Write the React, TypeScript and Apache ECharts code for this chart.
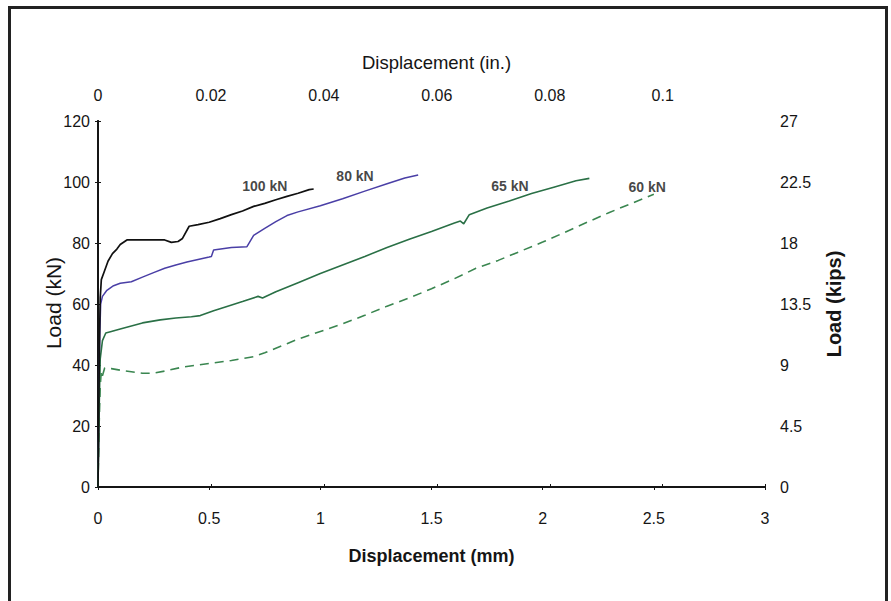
import React, { useEffect, useRef } from "react";
import * as echarts from "echarts";

// Load–displacement curves for four pretension levels (displacement in mm, load in kN)
const curve100kN: [number, number][] = [
  [0, 0], [0.003, 20], [0.006, 45], [0.01, 62], [0.015, 68], [0.03, 71], [0.045, 74],
  [0.065, 76.5], [0.085, 78], [0.1, 79.5], [0.13, 81], [0.2, 81], [0.3, 81], [0.33, 80.2],
  [0.36, 80.5], [0.38, 81.5], [0.41, 85.5], [0.45, 86], [0.5, 86.8], [0.55, 88], [0.6, 89.3],
  [0.65, 90.5], [0.7, 92], [0.75, 93], [0.8, 94.2], [0.85, 95.3], [0.9, 96.3], [0.95, 97.5],
  [0.97, 97.7],
];

const curve80kN: [number, number][] = [
  [0, 0], [0.004, 25], [0.008, 50], [0.012, 60], [0.02, 62.5], [0.04, 64.5], [0.07, 66],
  [0.1, 66.8], [0.15, 67.3], [0.2, 68.8], [0.25, 70.3], [0.3, 71.7], [0.35, 72.8], [0.4, 73.8],
  [0.45, 74.6], [0.5, 75.4], [0.51, 75.6], [0.52, 77.7], [0.6, 78.5], [0.67, 78.8], [0.7, 82.5],
  [0.75, 84.8], [0.8, 87], [0.85, 89], [0.9, 90.2], [1.0, 92.2], [1.1, 94.5], [1.2, 97],
  [1.3, 99.4], [1.38, 101.3], [1.44, 102.3],
];

const curve65kN: [number, number][] = [
  [0, 0], [0.005, 25], [0.01, 42], [0.02, 48], [0.035, 50.5], [0.06, 51], [0.1, 51.8],
  [0.15, 52.8], [0.2, 53.8], [0.28, 54.8], [0.35, 55.4], [0.42, 55.8], [0.46, 56.2],
  [0.52, 57.8], [0.58, 59.2], [0.65, 60.8], [0.72, 62.5], [0.74, 62], [0.8, 64], [0.9, 67],
  [1.0, 70], [1.1, 72.8], [1.2, 75.6], [1.3, 78.5], [1.4, 81.2], [1.5, 83.8], [1.6, 86.5],
  [1.63, 87.2], [1.645, 86.3], [1.67, 89.3], [1.75, 91.5], [1.85, 93.8], [1.95, 96.2],
  [2.05, 98.3], [2.15, 100.4], [2.21, 101.2],
];

const curve60kN: [number, number][] = [
  [0, 0], [0.005, 20], [0.01, 33], [0.015, 38], [0.02, 36.5], [0.03, 39], [0.06, 38.8],
  [0.1, 38.3], [0.15, 37.8], [0.2, 37.3], [0.25, 37.3], [0.3, 38], [0.38, 39.3], [0.45, 40],
  [0.5, 40.5], [0.6, 41.5], [0.7, 42.7], [0.75, 44], [0.8, 45.5], [0.85, 47], [0.9, 48.5],
  [1.0, 51], [1.1, 53.5], [1.2, 56.3], [1.3, 59.3], [1.4, 62], [1.5, 65], [1.6, 68.2],
  [1.7, 71.7], [1.8, 74.3], [1.9, 77.3], [2.0, 80.3], [2.1, 83.5], [2.2, 86.8], [2.3, 90],
  [2.4, 93], [2.5, 96],
];

// Curve captions, anchored in data coordinates (mm, kN)
const curveLabels: { name: string; value: [number, number] }[] = [
  { name: "100 kN", value: [0.75, 98.7] },
  { name: "80 kN", value: [1.156, 102] },
  { name: "65 kN", value: [1.853, 98.7] },
  { name: "60 kN", value: [2.47, 98.4] },
];

// Axis ranges and steps
const mmRange = [0, 3];
const mmStep = 0.5;
const inchStep = 0.02;
const kNRange = [0, 120];
const kNStep = 20;
const kipsRange = [0, 27];
const kipsStep = 4.5;

const FONT = "Liberation Sans";
const INK = "#151515";

export default function App() {
  const ref = useRef<HTMLDivElement>(null);

  useEffect(() => {
    if (!ref.current) return;
    const chart = echarts.init(ref.current, undefined, { renderer: "svg" });

    const axisLine = { show: true, lineStyle: { color: INK, width: 2 } };
    const axisTick = { show: true, length: 3, lineStyle: { color: INK, width: 1 } };
    const labelStyle = { color: INK, fontFamily: FONT, fontSize: 16 };

    chart.setOption({
      animation: false,
      backgroundColor: "#ffffff",
      grid: { left: 98, right: 126, top: 121, bottom: 114, containLabel: false },
      xAxis: [
        {
          type: "value",
          position: "bottom",
          min: mmRange[0],
          max: mmRange[1],
          interval: mmStep,
          name: "Displacement (mm)",
          nameLocation: "middle",
          nameGap: 60,
          nameTextStyle: { color: INK, fontFamily: FONT, fontSize: 18, fontWeight: "bold" },
          axisLine,
          axisTick,
          splitLine: { show: false },
          axisLabel: { ...labelStyle, margin: 23, formatter: (v: number) => String(+v.toFixed(2)) },
        },
        {
          type: "value",
          position: "top",
          min: mmRange[0] / 25.4,
          max: mmRange[1] / 25.4,
          interval: inchStep,
          name: "Displacement (in.)",
          nameLocation: "middle",
          nameGap: 49,
          nameTextStyle: { color: INK, fontFamily: FONT, fontSize: 18.5, padding: [0, 0, 0, 10] },
          axisLine,
          axisTick,
          splitLine: { show: false },
          axisLabel: {
            ...labelStyle,
            margin: 18,
            formatter: (v: number) => {
              const k = v / inchStep;
              if (Math.abs(k - Math.round(k)) > 1e-6) return "";
              return String(+v.toFixed(2));
            },
          },
        },
      ],
      yAxis: [
        {
          type: "value",
          position: "left",
          min: kNRange[0],
          max: kNRange[1],
          interval: kNStep,
          axisLine,
          axisTick,
          splitLine: { show: false },
          axisLabel: { ...labelStyle, margin: 8 },
        },
        {
          type: "value",
          position: "right",
          min: kipsRange[0],
          max: kipsRange[1],
          interval: kipsStep,
          name: "Load (kips)",
          nameLocation: "middle",
          nameRotate: 90,
          nameGap: 59,
          nameTextStyle: { color: INK, fontFamily: FONT, fontSize: 20, fontWeight: "bold" },
          axisLine,
          axisTick,
          splitLine: { show: false },
          axisLabel: { ...labelStyle, margin: 15 },
        },
      ],
      series: [
        {
          name: "100 kN",
          type: "line",
          data: curve100kN,
          showSymbol: false,
          lineStyle: { color: "#111111", width: 1.7 },
          z: 4,
        },
        {
          name: "80 kN",
          type: "line",
          data: curve80kN,
          showSymbol: false,
          lineStyle: { color: "#4a3fa6", width: 1.5 },
          z: 3,
        },
        {
          name: "65 kN",
          type: "line",
          data: curve65kN,
          showSymbol: false,
          lineStyle: { color: "#2a7046", width: 1.6 },
          z: 3,
        },
        {
          name: "60 kN",
          type: "line",
          data: curve60kN,
          showSymbol: false,
          lineStyle: { color: "#3a8650", width: 1.6, type: [9, 6] },
          z: 3,
        },
        {
          name: "captions",
          type: "scatter",
          data: curveLabels,
          symbolSize: 0,
          silent: true,
          z: 5,
          label: {
            show: true,
            position: "inside",
            formatter: (p: any) => p.name,
            color: INK,
            fontFamily: FONT,
            fontSize: 14,
            fontWeight: "bold",
          },
        },
      ],
      graphic: [
        // left axis title, reading bottom to top
        {
          type: "text",
          x: 53,
          y: 303,
          rotation: Math.PI / 2,
          style: {
            text: "Load (kN)",
            fill: INK,
            font: `21px "${FONT}"`,
            align: "center",
            verticalAlign: "middle",
          },
        },
        // outer frame, open at the bottom
        { type: "line", shape: { x1: 9.5, y1: 7.5, x2: 9.5, y2: 601 }, style: { stroke: "#222", lineWidth: 3 } },
        { type: "line", shape: { x1: 8, y1: 7.5, x2: 888, y2: 7.5 }, style: { stroke: "#222", lineWidth: 3 } },
        { type: "line", shape: { x1: 886.5, y1: 6, x2: 886.5, y2: 601 }, style: { stroke: "#222", lineWidth: 3 } },
      ],
    });

    return () => chart.dispose();
  }, []);

  return (
    <div
      ref={ref}
      style={{ position: "fixed", left: 0, top: 0, width: 891, height: 601, background: "#fff" }}
    />
  );
}
